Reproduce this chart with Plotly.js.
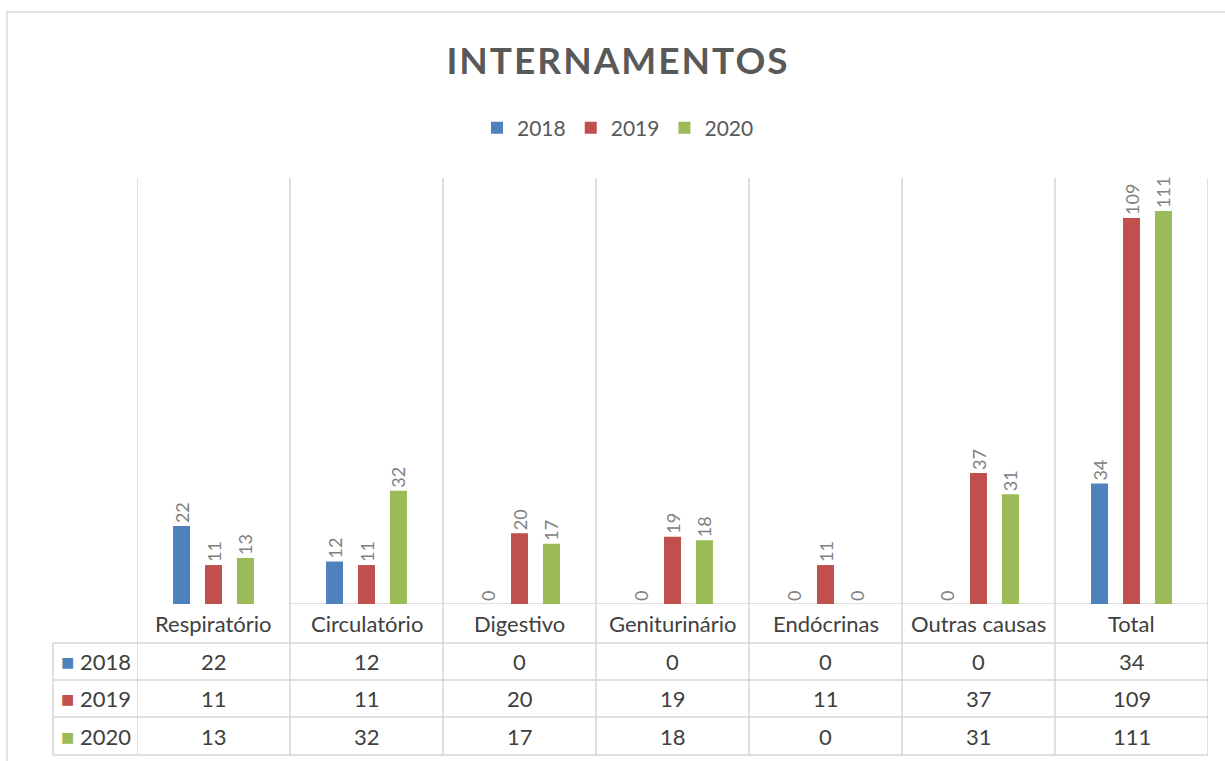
<!DOCTYPE html>
<html>
<head>
<meta charset="utf-8">
<script src="https://cdn.plot.ly/plotly-3.0.1.min.js"></script>
<style>
html,body{margin:0;padding:0;background:#fff;}
#chart{width:1225px;height:761px;}
.gtitle{letter-spacing:2px;}
</style>
</head>
<body>
<div id="chart"></div>
<script>
const categories = ["Respiratório","Circulatório","Digestivo","Geniturinário","Endócrinas","Outras causas","Total"];
const years = ["2018","2019","2020"];
const v2018 = [22,12,0,0,0,0,34];
const v2019 = [11,11,20,19,11,37,109];
const v2020 = [13,32,17,18,0,31,111];
const series = [v2018, v2019, v2020];
const colors = ["#4F81BD","#C0504D","#9BBB59"];

const W = 1225, H = 761;
const px = x => x / W;
const py = y => 1 - y / H;
const FONT = "Lato, 'Open Sans', sans-serif";
const gridColor = "#d6d6d6";

const traces = series.map((vals, k) => ({
  type: "bar",
  name: years[k],
  x: categories,
  y: vals,
  marker: {color: colors[k]},
  text: vals.map(String),
  textposition: "outside",
  textangle: -90,
  constraintext: "none",
  cliponaxis: false,
  textfont: {family: FONT, size: 18, color: "#808080"},
  hoverinfo: "x+y+name"
}));

const shapes = [];
shapes.push({type:"rect", xref:"paper", yref:"paper", x0:px(7), x1:px(1235), y0:py(775), y1:py(12),
  line:{color:"#d9d9d9", width:1.5}, fillcolor:"rgba(0,0,0,0)", layer:"below"});
for (let i = 0; i <= categories.length; i++) {
  shapes.push({type:"line", xref:"x", yref:"paper", x0:i-0.5, x1:i-0.5, y0:py(755), y1:py(178),
    line:{color:gridColor, width:1.5}, layer:"below"});
}
shapes.push({type:"line", xref:"x", yref:"y", x0:0.5, x1:categories.length-0.5, y0:0, y1:0,
  line:{color:gridColor, width:1.5}, layer:"below"});
[643, 680, 717, 755].forEach(y => {
  shapes.push({type:"line", xref:"paper", yref:"paper", x0:px(53), x1:px(1208), y0:py(y), y1:py(y),
    line:{color:gridColor, width:1.5}, layer:"below"});
});
shapes.push({type:"line", xref:"paper", yref:"paper", x0:px(53), x1:px(53), y0:py(643), y1:py(755),
  line:{color:gridColor, width:1.5}, layer:"below"});

const annotations = [];
const rowY = [661.5, 698.5, 736];
categories.forEach((c, i) => {
  annotations.push({xref:"x", yref:"paper", x:c, y:py(623), text:c, showarrow:false,
    xanchor:"center", yanchor:"middle", font:{family:FONT, size:22, color:"#404040"}});
});
series.forEach((vals, k) => {
  vals.forEach((v, i) => {
    annotations.push({xref:"x", yref:"paper", x:categories[i], y:py(rowY[k]), text:String(v), showarrow:false,
      xanchor:"center", yanchor:"middle", font:{family:FONT, size:22, color:"#404040"}});
  });
  annotations.push({xref:"paper", yref:"paper", x:px(59), y:py(rowY[k]), xanchor:"left", yanchor:"middle",
    showarrow:false,
    text:'<span style="color:'+colors[k]+'">■</span> '+years[k],
    font:{family:FONT, size:22, color:"#404040"}});
});

const layout = {
  width: W, height: H,
  margin: {l:0, r:0, t:0, b:0},
  paper_bgcolor: "#fff",
  plot_bgcolor: "rgba(0,0,0,0)",
  title: {text: "<b>INTERNAMENTOS</b>", x: px(618), xanchor:"center", y: py(61), yanchor:"middle",
    yref:"container", font:{family:FONT, size:37, color:"#595959"}},
  showlegend: true,
  legend: {orientation:"h", x: px(618), xanchor:"center", y: py(128), yanchor:"middle",
    font:{family:FONT, size:21, color:"#595959"}, itemwidth:30, traceorder:"normal"},
  barmode: "group",
  bargap: 0.373,
  bargroupgap: 0.469,
  xaxis: {domain:[px(137), px(1208)], showticklabels:false, showgrid:false, zeroline:false,
    showline:false, ticks:"", fixedrange:true, range:[-0.5, categories.length-0.5]},
  yaxis: {domain:[py(604), py(178)], range:[0, 120.3], visible:false, showgrid:false, zeroline:false, fixedrange:true},
  shapes: shapes,
  annotations: annotations
};

Plotly.newPlot("chart", traces, layout, {displayModeBar:false, staticPlot:true});
</script>
</body>
</html>
